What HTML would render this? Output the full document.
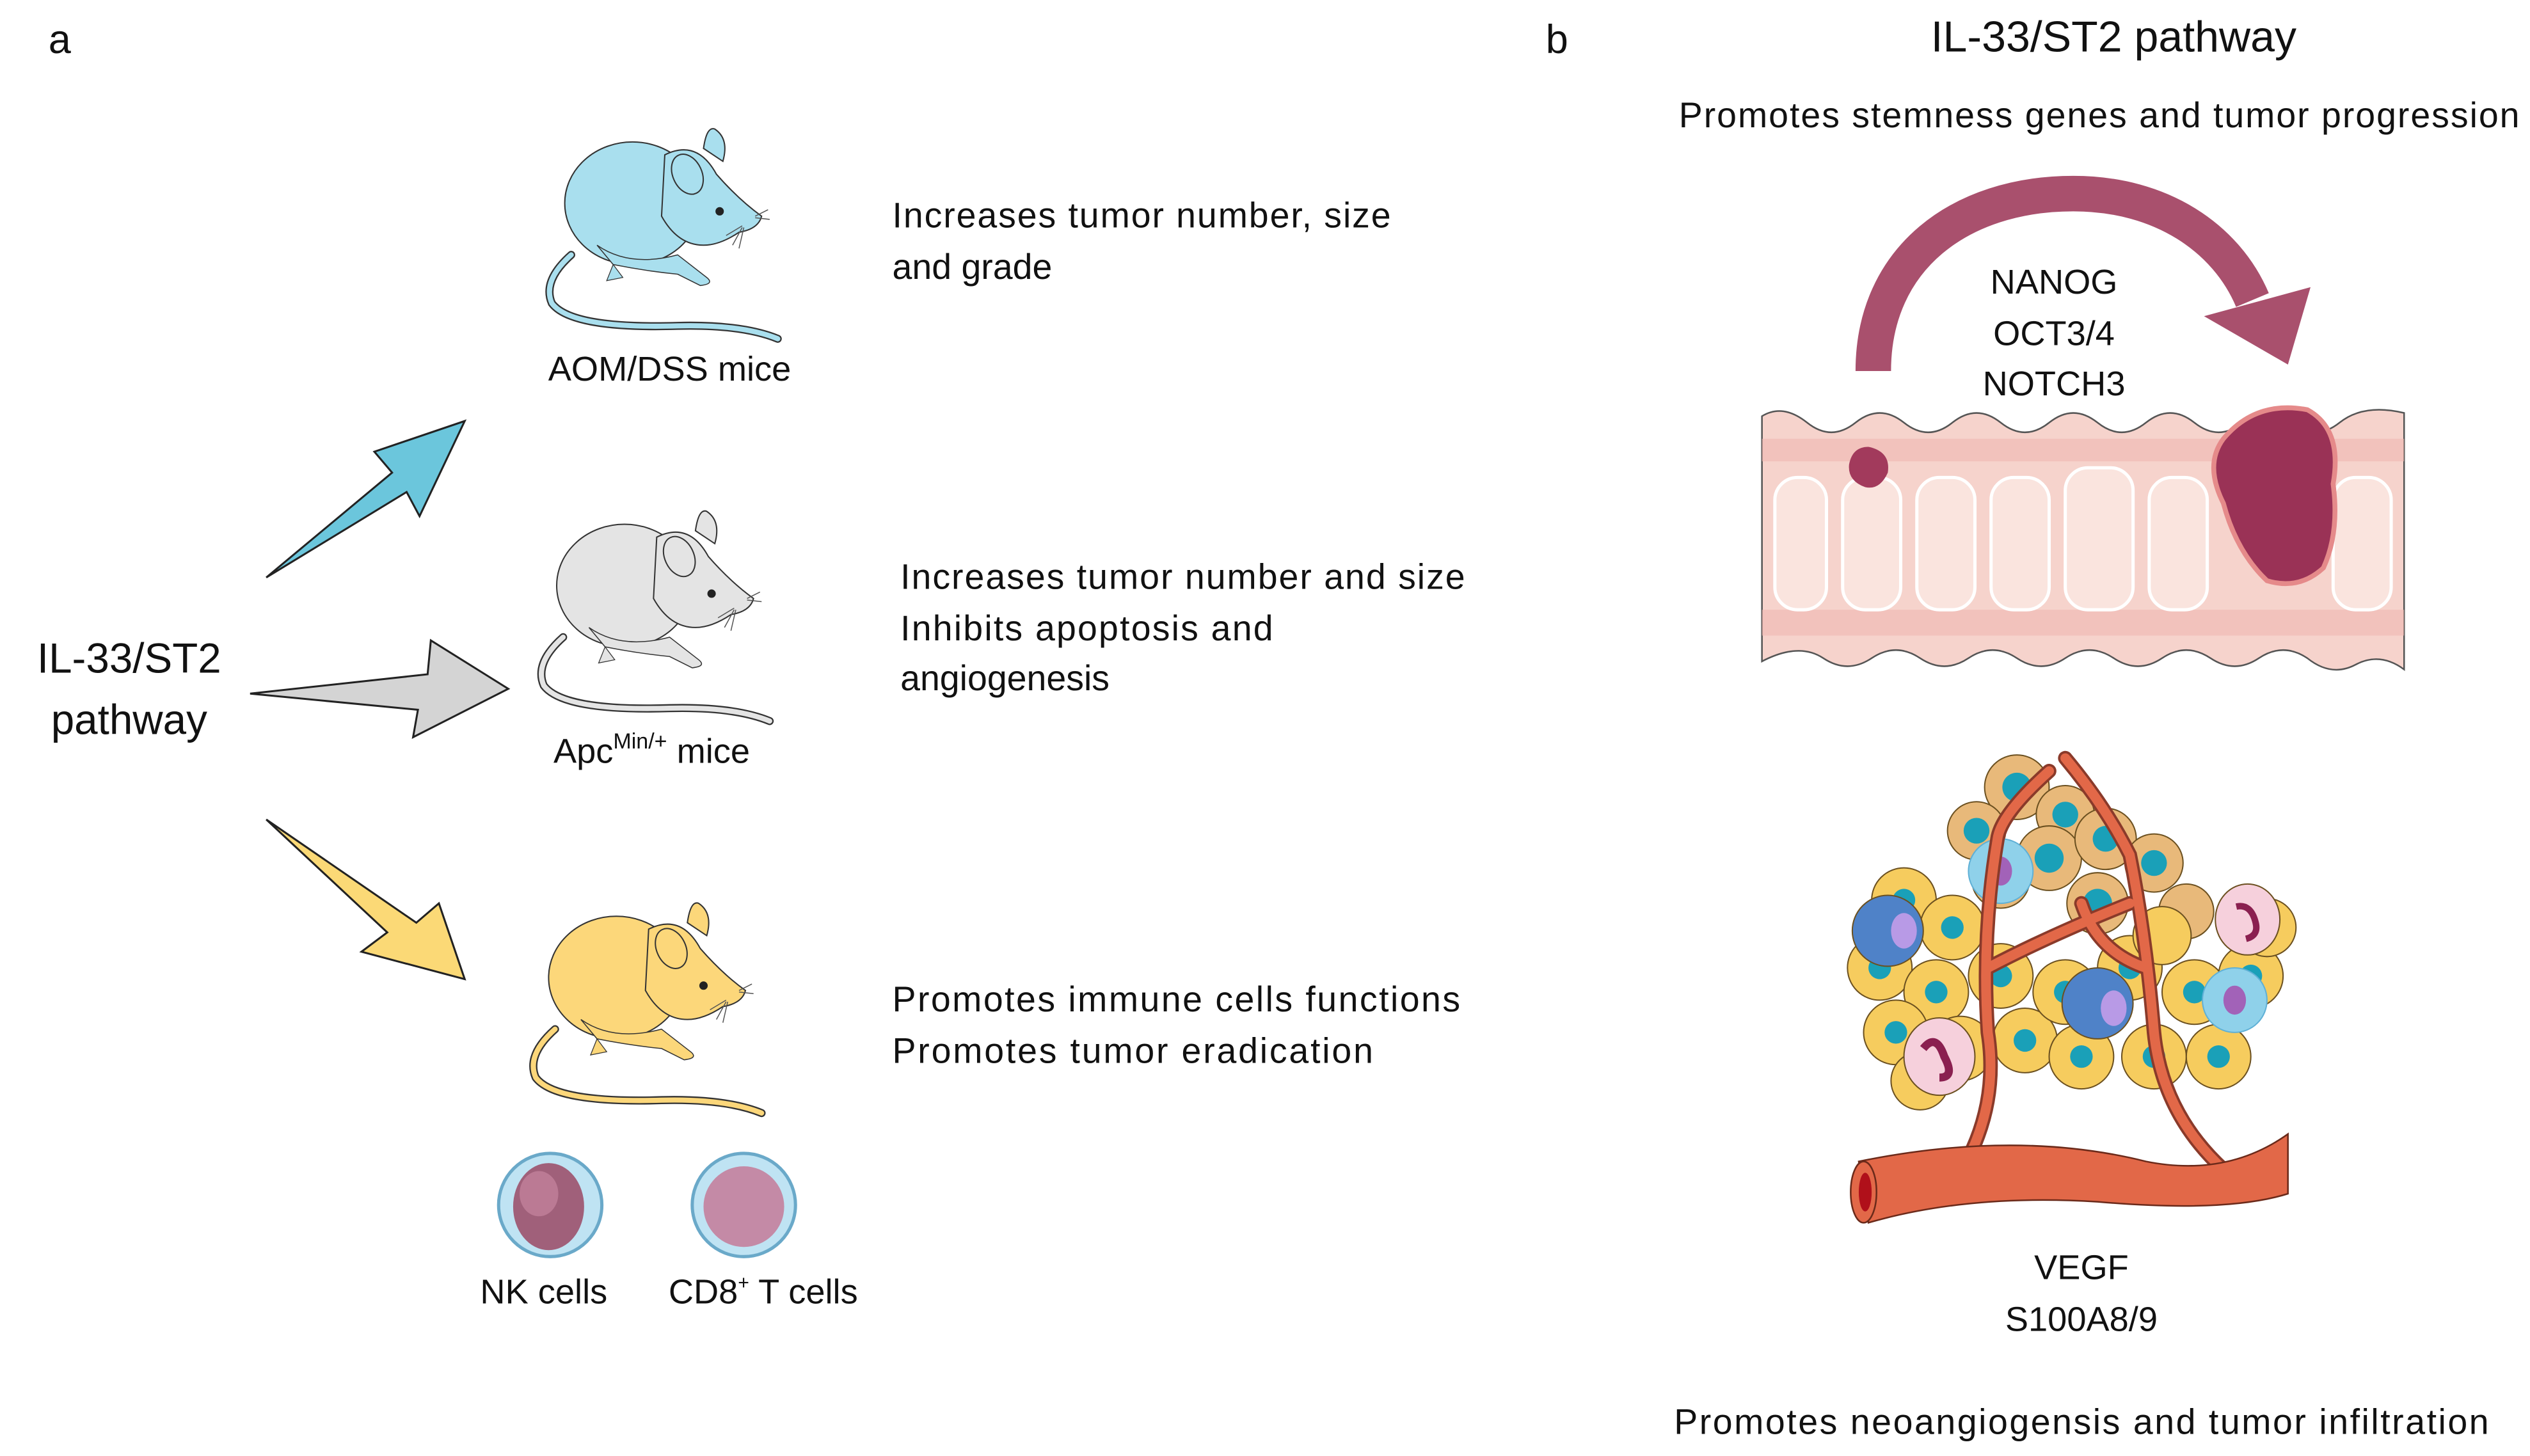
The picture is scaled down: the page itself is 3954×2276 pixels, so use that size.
<!DOCTYPE html>
<html><head><meta charset="utf-8"><style>
html,body{margin:0;padding:0;background:#fff;}
svg{display:block;}
text{font-family:"Liberation Sans",sans-serif;fill:#111;}
</style></head><body>
<svg width="3954" height="2276" viewBox="0 0 1568 902.6" xmlns="http://www.w3.org/2000/svg">
<defs>
<g id="mouse">
  <path d="M14,80 Q-4,96 2,110 Q14,126 80,124 Q120,123 142,132" fill="none" stroke="#333" stroke-width="5" stroke-linecap="round"/>
  <path d="M14,80 Q-4,96 2,110 Q14,126 80,124 Q120,123 142,132" fill="none" stroke="var(--c)" stroke-width="3.2" stroke-linecap="round"/>
  <ellipse cx="52" cy="48" rx="42" ry="38" fill="var(--c)" stroke="#333" stroke-width="0.8"/>
  <path d="M30,74 Q50,88 80,80 L98,94 Q103,98 94,99 L80,92 Q60,90 40,86 Z" fill="var(--c)" stroke="#333" stroke-width="0.6"/>
  <path d="M72,18 Q92,8 104,30 Q118,46 132,56 Q130,64 118,66 Q106,74 96,74 Q80,74 70,56 Z" fill="var(--c)" stroke="#333" stroke-width="0.8"/>
  <path d="M96,14 Q98,0 103,2 Q112,8 108,22 Z" fill="var(--c)" stroke="#333" stroke-width="0.8"/>
  <ellipse cx="86" cy="30" rx="9" ry="13" fill="var(--c)" stroke="#333" stroke-width="0.8" transform="rotate(-25 86 30)"/>
  <circle cx="106" cy="53" r="2.6" fill="#222"/>
  <path d="M120,62 L110,68 M120,63 L114,74 M121,63 L118,76 M128,56 L136,52 M128,57 L137,58" stroke="#555" stroke-width="0.6"/>
  <path d="M40,86 L36,96 L46,94 Z" fill="var(--c)" stroke="#333" stroke-width="0.5"/>
</g>
</defs>

<text x="30" y="33" font-size="25">a</text>
<text x="958" y="33" font-size="25">b</text>

<text x="80" y="417" font-size="26" text-anchor="middle">IL-33/ST2</text>
<text x="80" y="455" font-size="26" text-anchor="middle">pathway</text>

<polygon points="165,358 243,293 232,280 288,261 260,320 252,305" fill="#6bc6dc" stroke="#222" stroke-width="1.2"/>
<polygon points="155,430 265,418 267,397 315,427 256,457 259,440" fill="#d4d4d4" stroke="#222" stroke-width="1.2"/>
<polygon points="165,508 258,572 272,560 288,607 224,590 240,578" fill="#fbd976" stroke="#222" stroke-width="1.2"/>

<g transform="translate(340,78)" style="--c:#a9dfee"><use href="#mouse"/></g>
<g transform="translate(335,315)" style="--c:#e4e4e4"><use href="#mouse"/></g>
<g transform="translate(330,558)" style="--c:#fcd77a"><use href="#mouse"/></g>

<text x="415" y="236" font-size="21.5" text-anchor="middle">AOM/DSS mice</text>
<text x="343" y="473" font-size="21.5">Apc<tspan font-size="13.5" dy="-9">Min/+</tspan><tspan dy="9"> mice</tspan></text>

<text x="553" y="141" font-size="22" textLength="309">Increases tumor number, size</text>
<text x="553" y="173" font-size="22">and grade</text>
<text x="558" y="365" font-size="22" textLength="350">Increases tumor number and size</text>
<text x="558" y="397" font-size="22" textLength="231">Inhibits apoptosis and</text>
<text x="558" y="428" font-size="22">angiogenesis</text>
<text x="553" y="627" font-size="22" textLength="352">Promotes immune cells functions</text>
<text x="553" y="659" font-size="22" textLength="298">Promotes tumor eradication</text>

<g>
<circle cx="341" cy="747" r="32" fill="#bfe3f3" stroke="#6aa9c9" stroke-width="2"/>
<ellipse cx="340" cy="748" rx="22" ry="27" fill="#a0607a"/>
<ellipse cx="334" cy="740" rx="12" ry="14" fill="#bb7a94"/>
<circle cx="461" cy="747" r="32" fill="#bfe3f3" stroke="#6aa9c9" stroke-width="2"/>
<circle cx="461" cy="748" r="25" fill="#c48aa6"/>
</g>
<text x="337" y="808" font-size="21.5" text-anchor="middle">NK cells</text>
<text x="473" y="808" font-size="21.5" text-anchor="middle">CD8<tspan font-size="12" dy="-9">+</tspan><tspan dy="9"> T cells</tspan></text>

<text x="1310" y="32" font-size="27" text-anchor="middle">IL-33/ST2 pathway</text>
<text x="1301" y="79" font-size="22" text-anchor="middle" textLength="521">Promotes stemness genes and tumor progression</text>

<path d="M1161,230 C1161,160 1215,120 1285,120 C1340,120 1380,148 1396,186" fill="none" stroke="#a9506d" stroke-width="22"/>
<polygon points="1366,196 1432,178 1418,226" fill="#a9506d"/>
<text x="1273" y="182" font-size="21.5" text-anchor="middle">NANOG</text>
<text x="1273" y="214" font-size="21.5" text-anchor="middle">OCT3/4</text>
<text x="1273" y="245" font-size="21.5" text-anchor="middle">NOTCH3</text>

<g>
<path d="M1092,258 Q1105,250 1120,262 Q1135,274 1150,262 Q1165,250 1180,262 Q1195,274 1210,262 Q1225,250 1240,262 Q1255,274 1270,262 Q1285,250 1300,262 Q1315,274 1330,262 Q1345,250 1360,262 Q1375,274 1390,262 Q1405,250 1420,262 Q1435,274 1450,262 Q1465,250 1490,256 L1490,415 Q1475,404 1460,412 Q1445,420 1430,408 Q1415,398 1400,408 Q1385,418 1370,408 Q1355,398 1340,408 Q1325,418 1310,408 Q1295,398 1280,408 Q1265,418 1250,408 Q1235,398 1220,408 Q1205,418 1190,408 Q1175,398 1160,408 Q1145,418 1130,408 Q1115,398 1092,410 Z" fill="#f6d3cc" stroke="#555" stroke-width="1"/>
<rect x="1092" y="272" width="398" height="14" fill="#f0b8b0" opacity="0.6"/>
<rect x="1092" y="378" width="398" height="16" fill="#f0b8b0" opacity="0.6"/>
<g fill="#fae4de" stroke="#fff" stroke-width="2">
<rect x="1100" y="296" width="32" height="82" rx="14"/>
<rect x="1142" y="296" width="36" height="82" rx="14"/>
<rect x="1188" y="296" width="36" height="82" rx="14"/>
<rect x="1234" y="296" width="36" height="82" rx="14"/>
<rect x="1280" y="290" width="42" height="88" rx="14"/>
<rect x="1332" y="296" width="36" height="82" rx="14"/>
<rect x="1446" y="296" width="36" height="82" rx="14"/>
</g>
<path d="M1158,277 Q1172,280 1170,293 Q1165,304 1156,302 Q1145,298 1146,288 Q1148,277 1158,277Z" fill="#a23a5c"/>
<path d="M1378,272 Q1398,248 1430,254 Q1452,266 1446,300 Q1450,330 1440,352 Q1425,366 1405,360 Q1386,342 1378,312 Q1366,288 1378,272Z" fill="#9a3256" stroke="#e58a8a" stroke-width="3"/>
</g>

<g stroke="#6b5020" stroke-width="0.8">
<g fill="#e8b97a">
<circle cx="1250" cy="488" r="20"/><circle cx="1280" cy="505" r="18"/><circle cx="1225" cy="515" r="18"/>
<circle cx="1270" cy="532" r="20"/><circle cx="1305" cy="520" r="19"/><circle cx="1335" cy="535" r="18"/>
<circle cx="1240" cy="545" r="18"/><circle cx="1300" cy="560" r="19"/><circle cx="1355" cy="565" r="17"/>
</g>
<g fill="#f6cc5e">
<circle cx="1180" cy="558" r="20"/><circle cx="1210" cy="575" r="20"/><circle cx="1165" cy="600" r="20"/>
<circle cx="1200" cy="615" r="20"/><circle cx="1240" cy="605" r="20"/><circle cx="1175" cy="640" r="20"/>
<circle cx="1215" cy="650" r="20"/><circle cx="1255" cy="645" r="20"/><circle cx="1290" cy="655" r="20"/>
<circle cx="1335" cy="655" r="20"/><circle cx="1375" cy="655" r="20"/><circle cx="1280" cy="615" r="20"/>
<circle cx="1320" cy="600" r="20"/><circle cx="1360" cy="615" r="20"/><circle cx="1395" cy="605" r="20"/>
<circle cx="1405" cy="575" r="18"/><circle cx="1340" cy="580" r="18"/><circle cx="1190" cy="670" r="18"/>
</g>
<g fill="#1aa0b8" stroke="none">
<circle cx="1180" cy="558" r="7"/><circle cx="1210" cy="575" r="7"/><circle cx="1165" cy="600" r="7"/>
<circle cx="1200" cy="615" r="7"/><circle cx="1240" cy="605" r="7"/><circle cx="1175" cy="640" r="7"/>
<circle cx="1215" cy="650" r="7"/><circle cx="1255" cy="645" r="7"/><circle cx="1290" cy="655" r="7"/>
<circle cx="1335" cy="655" r="7"/><circle cx="1375" cy="655" r="7"/><circle cx="1280" cy="615" r="7"/>
<circle cx="1320" cy="600" r="7"/><circle cx="1360" cy="615" r="7"/><circle cx="1395" cy="605" r="7"/>
<circle cx="1250" cy="488" r="9"/><circle cx="1280" cy="505" r="8"/><circle cx="1225" cy="515" r="8"/>
<circle cx="1270" cy="532" r="9"/><circle cx="1305" cy="520" r="8"/><circle cx="1335" cy="535" r="8"/>
<circle cx="1240" cy="545" r="8"/><circle cx="1300" cy="560" r="9"/>
</g>
<circle cx="1170" cy="577" r="22" fill="#4f82c8"/><ellipse cx="1180" cy="577" rx="8" ry="11" fill="#b89ae6" stroke="none"/>
<circle cx="1300" cy="622" r="22" fill="#4f82c8"/><ellipse cx="1310" cy="625" rx="8" ry="11" fill="#b89ae6" stroke="none"/>
<ellipse cx="1202" cy="655" rx="22" ry="24" fill="#f6d0dc"/><path d="M1192,650 Q1200,640 1205,655 Q1212,668 1202,668" fill="none" stroke="#8a2050" stroke-width="5"/>
<ellipse cx="1393" cy="570" rx="20" ry="22" fill="#f6d0dc"/><path d="M1386,562 Q1395,560 1398,572 Q1400,580 1392,582" fill="none" stroke="#8a2050" stroke-width="4"/>
<circle cx="1240" cy="540" r="20" fill="#8fd1ea" stroke="#5fb0d6"/><ellipse cx="1240" cy="540" rx="7" ry="9" fill="#a262b8" stroke="none"/>
<circle cx="1385" cy="620" r="20" fill="#8fd1ea" stroke="#5fb0d6"/><ellipse cx="1385" cy="620" rx="7" ry="9" fill="#a262b8" stroke="none"/>
</g>
<g fill="none" stroke="#8a3a2a" stroke-width="9" stroke-linecap="round">
<path d="M1210,735 Q1240,690 1232,640 Q1228,580 1238,520 Q1240,505 1270,478"/>
<path d="M1378,725 Q1340,690 1335,640 Q1330,580 1320,530 Q1305,500 1280,470"/>
<path d="M1232,600 Q1270,580 1320,560"/><path d="M1330,600 Q1300,590 1290,560"/>
</g>
<g fill="none" stroke="#e26848" stroke-width="6" stroke-linecap="round">
<path d="M1210,735 Q1240,690 1232,640 Q1228,580 1238,520 Q1240,505 1270,478"/>
<path d="M1378,725 Q1340,690 1335,640 Q1330,580 1320,530 Q1305,500 1280,470"/>
<path d="M1232,600 Q1270,580 1320,560"/><path d="M1330,600 Q1300,590 1290,560"/>
</g>
<path d="M1152,720 Q1250,700 1330,720 Q1380,730 1418,703 L1418,740 Q1380,752 1300,745 Q1220,740 1158,758 Z" fill="#e26848" stroke="#6b2a1a" stroke-width="1"/>
<ellipse cx="1155" cy="739" rx="8" ry="19" fill="#e26848" stroke="#6b2a1a" stroke-width="1"/>
<ellipse cx="1156" cy="739" rx="4" ry="12" fill="#b0101a"/>

<text x="1290" y="793" font-size="21.5" text-anchor="middle">VEGF</text>
<text x="1290" y="825" font-size="21.5" text-anchor="middle">S100A8/9</text>
<text x="1290" y="889" font-size="22" text-anchor="middle" textLength="505">Promotes neoangiogensis and tumor infiltration</text>
</svg>
</body></html>
